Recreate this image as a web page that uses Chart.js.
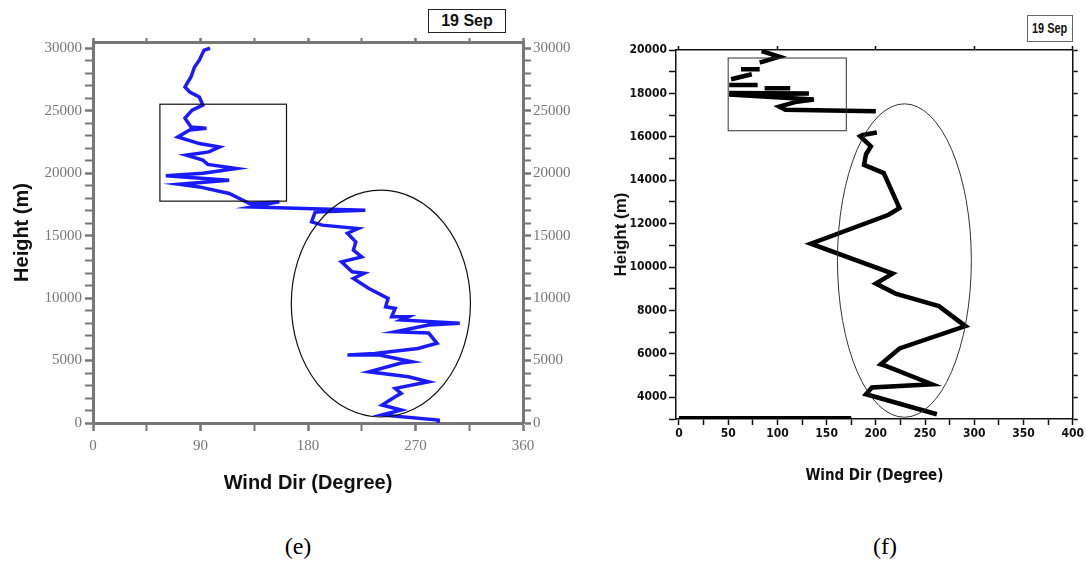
<!DOCTYPE html>
<html lang="en">
<head>
<meta charset="UTF-8">
<title>Wind direction profiles - 19 Sep</title>
<script src="https://cdn.jsdelivr.net/npm/chart.js"></script>
<style>
  body {
    margin: 0;
    background: #fff;
    width: 1086px;
    height: 570px;
    position: relative;
    overflow: hidden;
    font-family: 'Liberation Sans', Arial, sans-serif;
  }
  canvas { position: absolute; top: 0; }
  #chartE { left: 0; }
  #chartF { left: 560px; }
  .datebox {
    position: absolute;
    box-sizing: border-box;
    background: #fff;
    font-weight: bold;
    text-align: center;
    color: #111;
    white-space: nowrap;
  }
  #dateE { left: 428px; top: 9px; width: 78px; height: 24px; line-height: 21px; font-size: 16px; border: 1.5px solid #222; }
  #dateF { left: 1027px; top: 15px; width: 46px; height: 27px; line-height: 24px; font-size: 14px; border: 1.5px solid #666; }
  #dateF span { display: inline-block; transform: scaleX(0.78); transform-origin: center; margin: 0 -8px; }
  .caption {
    position: absolute;
    top: 533px;
    transform: translateX(-50%);
    font-family: 'Liberation Serif', 'Times New Roman', serif;
    font-size: 24px;
  }
</style>
</head>
<body>
<canvas id="chartE" width="580" height="520"></canvas>
<canvas id="chartF" width="526" height="520"></canvas>
<div class="datebox" id="dateE">19 Sep</div>
<div class="datebox" id="dateF"><span>19 Sep</span></div>
<div class="caption" style="left:298px">(e)</div>
<div class="caption" style="left:885px">(f)</div>

<script>
// ---- panel (e): wind direction (deg) vs height (m)
const eDir = [98, 93, 89, 85, 82, 77, 81, 89, 92, 83, 77, 82, 95, 81, 71, 89, 106, 97, 78, 92,
              96, 120, 92, 61, 114, 72, 89, 114, 131, 156, 133, 228, 186, 183, 192, 222, 213, 220, 218, 225,
              208, 217, 227, 218, 231, 247, 245, 253, 250, 264, 258, 307, 281, 253, 281, 288, 272, 236, 213, 240,
              267, 258, 231, 264, 281, 253, 258, 253, 242, 258, 242, 289, 289];
const eHeight = [30000, 29850, 29040, 28500, 27700, 26900, 26500, 26100, 25440, 25040, 24400, 23700, 23600, 23450, 22900, 22370, 22100, 21700, 21440, 21040,
                 20700, 20370, 20000, 19790, 19440, 19120, 18900, 18370, 17570, 17700, 17300, 17040, 16900, 16100, 15840, 15570, 15190, 14500, 13840, 13300,
                 12900, 12100, 11980, 11570, 10770, 9970, 9300, 9170, 8500, 8500, 8250, 7990, 7840, 7300, 7200, 6380, 5970, 5570, 5440, 5440,
                 4900, 4800, 4100, 3700, 3300, 2770, 2370, 2100, 1440, 1040, 640, 240, 0];
const eXTicks = [0, 90, 180, 270, 360];
const eYTicks = [0, 5000, 10000, 15000, 20000, 25000, 30000];
// marked regions, in data units: [xMin, xMax, yMin, yMax] and [cx, cy, rx, ry]
const eBox = [56, 162, 17760, 25520];
const eEllipse = [241, 9560, 75, 9080];

// ---- panel (f)
const fDir = [201, 186, 184, 195, 190, 188, 208, 224, 213, 134, 217, 200, 220, 264, 291, 224, 205, 210, 257, 196, 190, 262];
const fHeight = [16200, 16080, 16030, 15560, 15200, 14710, 14330, 12720, 12410, 11080, 9700, 9240, 8780, 8200, 7280, 6250, 5520, 5450, 4600, 4450, 4140, 3220];
// upper, broken part of the profile (null = gap)
const fUpperDir = [84, 102, 82, null, 82, 63, null, 74, 53, null, 51, 80, null, 87, 113, null,
                   51, 132, 51, 137, 118, 102, 108, 200];
const fUpperHeight = [19950, 19690, 19420, null, 19110, 19110, null, 18880, 18650, null, 18390, 18390, null, 18240, 18240, null,
                      18020, 18000, 17950, 17720, 17600, 17390, 17250, 17180];
const fBaseDir = [0, 175];
const fBaseHeight = [3070, 3070];
const fXTicks = [0, 50, 100, 150, 200, 250, 300, 350, 400];
const fYTicks = [4000, 6000, 8000, 10000, 12000, 14000, 16000, 18000, 20000];
const fBox = [50, 170, 16280, 19630];
const fEllipse = [229, 10300, 68, 7220];

function toPoints(xs, ys) {
  return xs.map((v, i) => ({ x: v, y: ys[i] }));
}
function range(min, max, step) {
  const out = [];
  for (let v = min; v <= max; v += step) out.push(v);
  return out;
}

const shapes = {
  id: 'shapes',
  afterDatasetsDraw(chart, args, opts) {
    const { ctx } = chart;
    const x = chart.scales.x, y = chart.scales.y;
    ctx.save();
    ctx.strokeStyle = opts.color;
    ctx.lineWidth = opts.width;
    const b = opts.box;
    const x0 = x.getPixelForValue(b[0]), x1 = x.getPixelForValue(b[1]);
    const y0 = y.getPixelForValue(b[3]), y1 = y.getPixelForValue(b[2]);
    ctx.strokeRect(x0, y0, x1 - x0, y1 - y0);
    const e = opts.ellipse;
    const cx = x.getPixelForValue(e[0]), cy = y.getPixelForValue(e[1]);
    ctx.beginPath();
    ctx.ellipse(cx, cy, Math.abs(x.getPixelForValue(e[0] + e[2]) - cx), Math.abs(y.getPixelForValue(e[1] + e[3]) - cy), 0, 0, Math.PI * 2);
    ctx.stroke();
    ctx.restore();
  }
};

// builds one linear axis with major labels and minor tick marks
function axis(o) {
  const all = range(o.min0 !== undefined ? o.min0 : o.min, o.maxTick, o.minor);
  return {
    type: 'linear',
    position: o.position,
    min: o.min,
    max: o.max,
    afterBuildTicks: s => { s.ticks = all.map(v => ({ value: v })); },
    afterFit: s => {
      if (o.size !== undefined) {
        if (s.isHorizontal()) s.height = o.size; else s.width = o.size;
      }
    },
    border: { display: true, color: o.color, width: o.borderWidth },
    grid: {
      drawOnChartArea: false,
      drawTicks: true,
      tickLength: o.tickLength,
      tickColor: o.color,
      tickWidth: c => (c.tick && o.majors.includes(c.tick.value)) ? o.majorWidth : o.minorWidth
    },
    ticks: {
      display: o.labels,
      autoSkip: false,
      maxRotation: 0,
      padding: o.padding,
      color: o.labelColor,
      font: o.font,
      callback: v => o.majors.includes(v) ? String(v) : ''
    },
    title: o.title || { display: false }
  };
}

const eFont = { family: "'Liberation Serif', 'Times New Roman', serif", size: 15 };
const eCommon = { color: '#777', borderWidth: 3, tickLength: 8, majorWidth: 2.5, minorWidth: 2, labelColor: '#777', font: eFont };

new Chart(document.getElementById('chartE'), {
  type: 'scatter',
  data: {
    datasets: [{
      data: toPoints(eDir, eHeight),
      showLine: true,
      borderColor: '#1a1aff',
      borderWidth: 3.5,
      pointRadius: 0,
      fill: false
    }]
  },
  options: {
    responsive: false,
    animation: false,
    layout: { padding: 0 },
    plugins: {
      legend: { display: false },
      tooltip: { enabled: false },
      shapes: { box: eBox, ellipse: eEllipse, color: '#111', width: 1.2 }
    },
    scales: {
      x: axis(Object.assign({}, eCommon, {
        position: 'bottom', min: 0, max: 360, maxTick: 360, minor: 45, majors: eXTicks,
        size: 97, labels: true, padding: 6,
        title: { display: true, text: 'Wind Dir (Degree)', color: '#111',
                 font: { family: "'Liberation Sans', Arial, sans-serif", size: 20, weight: 'bold' },
                 padding: { top: 0, bottom: 25 } }
      })),
      x2: axis(Object.assign({}, eCommon, {
        position: 'top', min: 0, max: 360, maxTick: 360, minor: 45, majors: eXTicks,
        size: 42, labels: false, padding: 0, tickLength: 4
      })),
      y: axis(Object.assign({}, eCommon, {
        position: 'left', min: 0, max: 30500, maxTick: 30000, minor: 1000, majors: eYTicks,
        size: 93, labels: true, padding: 3,
        title: { display: true, text: 'Height (m)', color: '#111',
                 font: { family: "'Liberation Sans', Arial, sans-serif", size: 20, weight: 'bold' },
                 padding: { top: 10, bottom: 0 } }
      })),
      y2: axis(Object.assign({}, eCommon, {
        position: 'right', min: 0, max: 30500, maxTick: 30000, minor: 1000, majors: eYTicks,
        size: 57, labels: true, padding: 2
      }))
    }
  },
  plugins: [shapes]
});

const fFont = { family: "'Liberation Sans Narrow', 'DejaVu Sans Condensed', 'Liberation Sans', sans-serif", size: 12, weight: 'bold' };
const fCommon = { color: '#111', borderWidth: 1.5, tickLength: 7, majorWidth: 1.5, minorWidth: 1.5, labelColor: '#111', font: fFont };

new Chart(document.getElementById('chartF'), {
  type: 'scatter',
  data: {
    datasets: [
      { data: toPoints(fDir, fHeight), showLine: true, borderColor: '#000', borderWidth: 4.5, pointRadius: 0, fill: false },
      { data: toPoints(fUpperDir, fUpperHeight), showLine: true, spanGaps: false, borderColor: '#000', borderWidth: 4.5, pointRadius: 0, fill: false },
      { data: toPoints(fBaseDir, fBaseHeight), showLine: true, borderColor: '#000', borderWidth: 3, pointRadius: 0, fill: false }
    ]
  },
  options: {
    responsive: false,
    animation: false,
    layout: { padding: 0 },
    plugins: {
      legend: { display: false },
      tooltip: { enabled: false },
      shapes: { box: fBox, ellipse: fEllipse, color: '#333', width: 1 }
    },
    scales: {
      x: axis(Object.assign({}, fCommon, {
        position: 'bottom', min: -3, max: 400, min0: 0, maxTick: 400, minor: 25, majors: fXTicks,
        size: 101, labels: true, padding: 2, tickLength: 6,
        title: { display: true, text: 'Wind Dir (Degree)', color: '#111',
                 font: { family: "'Liberation Sans Narrow', 'DejaVu Sans Condensed', 'Liberation Sans', sans-serif", size: 15, weight: 'bold' },
                 padding: { top: 0, bottom: 35 } }
      })),
      x2: axis(Object.assign({}, fCommon, {
        position: 'top', min: -3, max: 400, min0: 0, maxTick: 400, minor: 100, majors: fXTicks,
        size: 50, labels: false, padding: 0, tickLength: 4
      })),
      y: axis(Object.assign({}, fCommon, {
        position: 'left', min: 3000, max: 20000, maxTick: 20000, minor: 1000, majors: fYTicks,
        size: 116, labels: true, padding: 2,
        title: { display: true, text: 'Height (m)', color: '#111',
                 font: { family: "'Liberation Sans', Arial, sans-serif", size: 17, weight: 'bold' },
                 padding: { top: 51, bottom: 0 } }
      })),
      y2: axis(Object.assign({}, fCommon, {
        position: 'right', min: 3000, max: 20000, maxTick: 20000, minor: 1000, majors: fYTicks,
        size: 13, labels: false, padding: 0, tickLength: 5
      }))
    }
  },
  plugins: [shapes]
});
</script>
</body>
</html>
